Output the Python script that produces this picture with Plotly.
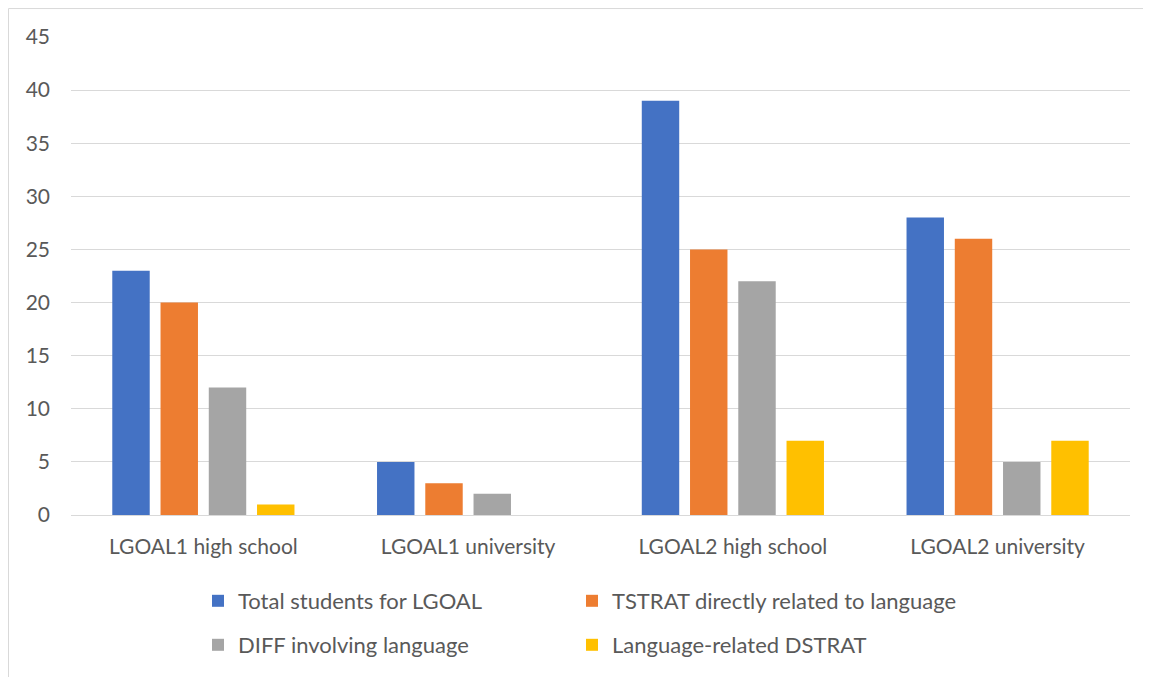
import plotly.graph_objects as go

categories = ["LGOAL1 high school", "LGOAL1 university", "LGOAL2 high school", "LGOAL2 university"]
series_names = ["Total students for LGOAL", "TSTRAT directly related to language",
                "DIFF involving language", "Language-related DSTRAT"]
total_students = [23, 5, 39, 28]
tstrat_language = [20, 3, 25, 26]
diff_language = [12, 2, 22, 5]
dstrat_language = [1, 0, 7, 7]
colors = ["#4472C4", "#ED7D31", "#A5A5A5", "#FFC000"]
y_ticks = [0, 5, 10, 15, 20, 25, 30, 35, 40, 45]

# page body has an 8px margin; figure is sized/offset to compensate
OFF = 8
W, H = 1151 - OFF, 677 - OFF
PL, PR, PT, PB = 71, 1130, 37, 516          # plot area in screen pixels
ML, MT = PL - OFF, PT - OFF
MR = W + OFF - PR
MB = H + OFF - PB
PW = PR - PL
PH = PB - PT

FONT = "Lato"
TXT = "#595959"


def px_x(sx):
    return (sx - PL) / PW


def px_y(sy):
    return (PB - sy) / PH


fig = go.Figure()
all_vals = [total_students, tstrat_language, diff_language, dstrat_language]
legend_ids = ["legend", "legend2", "legend3", "legend4"]
for name, vals, c, lg in zip(series_names, all_vals, colors, legend_ids):
    fig.add_trace(go.Bar(x=categories, y=vals, name=name, showlegend=True,
                         marker=dict(color=c, line=dict(width=0)), legend=lg))

legend_pos = {"legend": (198, 601), "legend2": (572, 601),
              "legend3": (198, 645), "legend4": (572, 645)}
legend_layout = {}
for lg, (sx, sy) in legend_pos.items():
    legend_layout[lg] = dict(orientation="h", x=px_x(sx), y=px_y(sy), xanchor="left",
                             yanchor="middle", font=dict(family=FONT, size=22, color=TXT),
                             bgcolor="rgba(0,0,0,0)", borderwidth=0, visible=True)

fig.update_layout(
    width=W, height=H,
    showlegend=True,
    margin=dict(l=ML, r=MR, t=MT, b=MB, pad=0),
    paper_bgcolor="white", plot_bgcolor="white",
    font=dict(family=FONT, size=21, color=TXT),
    barmode="group", bargap=0.271, bargroupgap=0.224,
    xaxis=dict(showgrid=False, showline=False, zeroline=False, ticks="",
               ticklabelstandoff=17, tickfont=dict(family=FONT, size=21, color=TXT)),
    yaxis=dict(range=[0, 45], tickvals=y_ticks, showgrid=True, gridcolor="#D9D9D9", gridwidth=1,
               zeroline=True, zerolinecolor="#D9D9D9", zerolinewidth=1, showline=False, ticks="",
               ticklabelstandoff=20, tickfont=dict(family=FONT, size=21, color=TXT)),
    shapes=[dict(type="rect", xref="paper", yref="paper",
                 x0=px_x(OFF + 0.5), x1=px_x(1160), y0=px_y(720), y1=px_y(OFF + 0.5),
                 line=dict(color="#D9D9D9", width=1), fillcolor="rgba(0,0,0,0)", layer="below")],
    **legend_layout,
)

fig.write_html("out.html")
